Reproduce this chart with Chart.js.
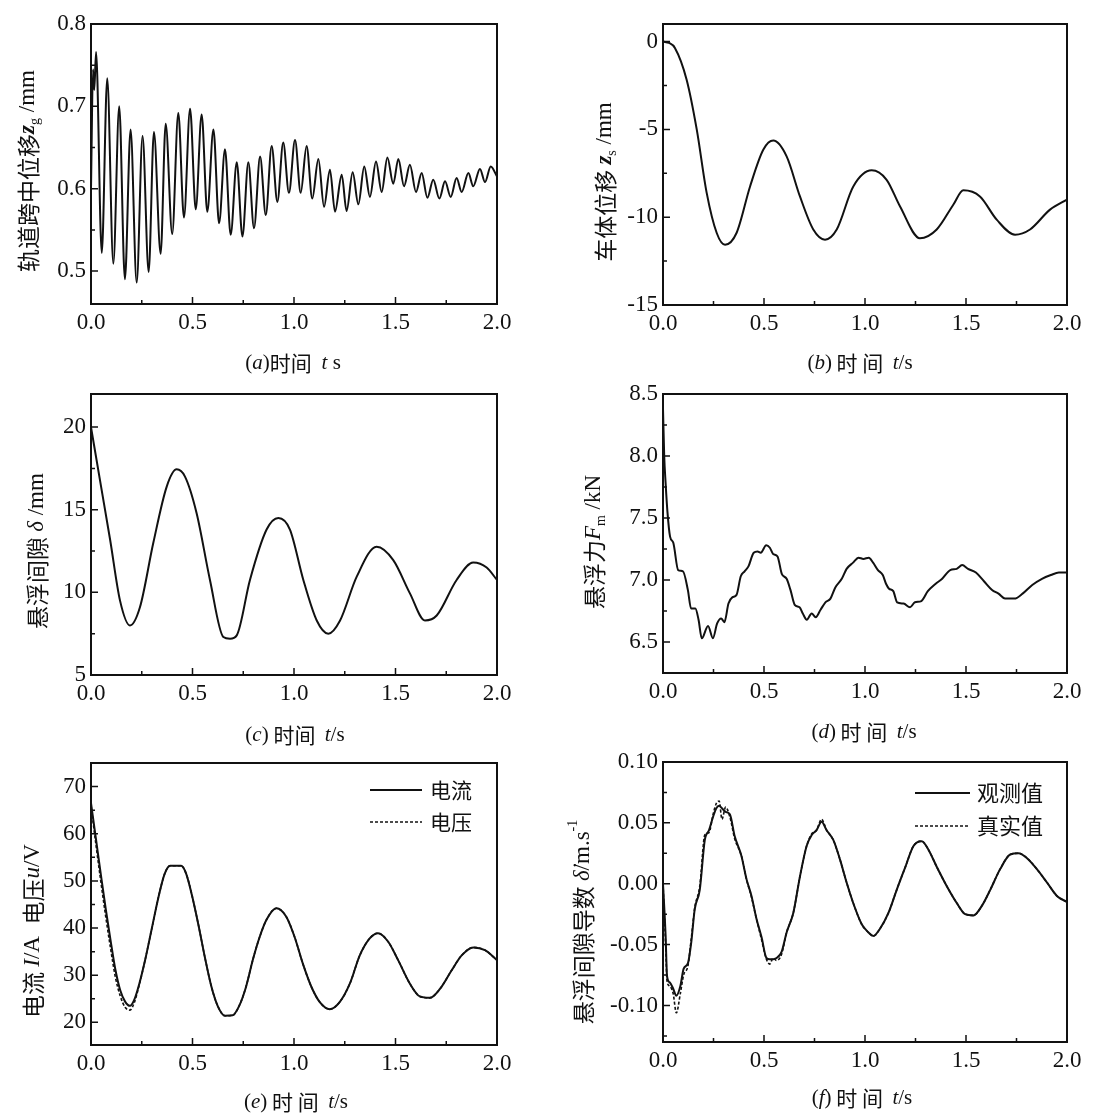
<!DOCTYPE html>
<html>
<head>
<meta charset="utf-8">
<script src="https://cdn.jsdelivr.net/npm/chart.js@4.4.1/dist/chart.umd.min.js"></script>
<style>
    body { margin: 0; background: #fff; }
    #page { position: relative; width: 1104px; height: 1115px; overflow: hidden; background: #fff; }
    canvas { position: absolute; }
</style>
</head>
<body>
<div id="page">
    <canvas id="chartA" width="545" height="380" style="left:0px;top:0px"></canvas>
    <canvas id="chartB" width="556" height="380" style="left:548px;top:0px"></canvas>
    <canvas id="chartC" width="545" height="370" style="left:0px;top:380px"></canvas>
    <canvas id="chartD" width="556" height="370" style="left:548px;top:380px"></canvas>
    <canvas id="chartE" width="545" height="365" style="left:0px;top:750px"></canvas>
    <canvas id="chartF" width="556" height="365" style="left:548px;top:750px"></canvas>
</div>
<script>
// (a) 轨道跨中位移
const tiempoA = [0, 0.010, 0.016, 0.025, 0.053, 0.080, 0.110, 0.139, 0.167, 0.195, 0.225, 0.254, 0.284, 0.310,
    0.343, 0.368, 0.400, 0.430, 0.458, 0.488, 0.516, 0.545, 0.573, 0.603, 0.631, 0.660, 0.688, 0.718, 0.746, 0.775,
    0.803, 0.833, 0.861, 0.890, 0.918, 0.947, 0.975, 1.005, 1.033, 1.062, 1.090, 1.120, 1.148, 1.177, 1.202, 1.235,
    1.259, 1.289, 1.317, 1.346, 1.374, 1.404, 1.432, 1.460, 1.489, 1.514, 1.542, 1.571, 1.601, 1.629, 1.657, 1.686,
    1.716, 1.744, 1.772, 1.801, 1.826, 1.859, 1.883, 1.916, 1.941, 1.969, 2.0];
const desplazamientoA = [0.60, 0.745, 0.72, 0.766, 0.522, 0.734, 0.509, 0.700, 0.490, 0.672, 0.486, 0.664, 0.499, 0.669,
    0.521, 0.679, 0.545, 0.692, 0.565, 0.697, 0.575, 0.690, 0.572, 0.672, 0.558, 0.648, 0.544, 0.632, 0.542, 0.632,
    0.552, 0.639, 0.568, 0.652, 0.584, 0.656, 0.595, 0.659, 0.595, 0.652, 0.588, 0.636, 0.578, 0.623, 0.572, 0.617,
    0.573, 0.620, 0.581, 0.627, 0.590, 0.633, 0.596, 0.638, 0.606, 0.636, 0.603, 0.629, 0.596, 0.619, 0.589, 0.611,
    0.588, 0.609, 0.590, 0.613, 0.596, 0.619, 0.603, 0.624, 0.608, 0.627, 0.615];

// (b) 车体位移
const tiempoB = [0, 0.030, 0.059, 0.117, 0.167, 0.216, 0.266, 0.307, 0.364, 0.431, 0.497, 0.546, 0.612, 0.678, 0.744,
    0.802, 0.860, 0.942, 1.033, 1.107, 1.173, 1.272, 1.355, 1.437, 1.487, 1.569, 1.652, 1.743, 1.817, 1.916, 2.0];
const desplazamientoB = [0, -0.08, -0.36, -2.17, -5.0, -8.6, -10.9, -11.57, -10.9, -8.25, -6.15, -5.64, -6.54, -8.82,
    -10.7, -11.28, -10.7, -8.25, -7.33, -7.87, -9.38, -11.2, -10.7, -9.29, -8.47, -8.82, -10.14, -11.0, -10.7, -9.57, -9.0];

// (c) 悬浮间隙
const tiempoC = [0, 0.044, 0.094, 0.143, 0.192, 0.241, 0.307, 0.373, 0.422, 0.463, 0.520, 0.586, 0.652, 0.685, 0.718,
    0.783, 0.865, 0.923, 0.980, 1.046, 1.112, 1.169, 1.227, 1.309, 1.407, 1.489, 1.571, 1.645, 1.703, 1.801, 1.883, 1.949, 2.0];
const holguraC = [20, 16.8, 13.2, 9.5, 8.0, 9.1, 13.0, 16.4, 17.44, 17.0, 14.8, 10.75, 7.3, 7.2, 7.4,
    10.75, 13.8, 14.5, 13.8, 10.75, 8.3, 7.5, 8.3, 10.95, 12.76, 11.95, 9.94, 8.3, 8.6, 10.75, 11.8, 11.5, 10.75];

// (d) 悬浮力
const tiempoD = [0, 0.006, 0.013, 0.022, 0.035, 0.051, 0.075, 0.099, 0.123, 0.139, 0.160, 0.176, 0.192, 0.223, 0.247,
    0.268, 0.288, 0.304, 0.324, 0.343, 0.364, 0.385, 0.404, 0.423, 0.449, 0.468, 0.484, 0.511, 0.529, 0.545, 0.567,
    0.588, 0.612, 0.631, 0.652, 0.676, 0.692, 0.712, 0.736, 0.756, 0.780, 0.804, 0.829, 0.853, 0.885, 0.909, 0.941,
    0.968, 0.992, 1.019, 1.040, 1.064, 1.088, 1.104, 1.119, 1.140, 1.159, 1.191, 1.223, 1.247, 1.279, 1.311, 1.350,
    1.382, 1.422, 1.454, 1.481, 1.510, 1.549, 1.589, 1.629, 1.661, 1.693, 1.740, 1.780, 1.828, 1.876, 1.920, 1.960, 2.0];
const fuerzaD = [8.38, 8.0, 7.78, 7.55, 7.35, 7.30, 7.08, 7.07, 6.92, 6.77, 6.77, 6.68, 6.53, 6.63, 6.53,
    6.65, 6.69, 6.66, 6.81, 6.86, 6.88, 7.03, 7.07, 7.11, 7.22, 7.23, 7.22, 7.28, 7.26, 7.21, 7.19,
    7.05, 7.01, 6.92, 6.80, 6.78, 6.73, 6.68, 6.73, 6.70, 6.76, 6.82, 6.85, 6.94, 7.01, 7.09, 7.14,
    7.18, 7.17, 7.18, 7.14, 7.08, 7.04, 6.97, 6.93, 6.91, 6.82, 6.81, 6.78, 6.82, 6.83, 6.91, 6.97,
    7.01, 7.08, 7.09, 7.12, 7.09, 7.06, 6.99, 6.92, 6.89, 6.85, 6.85, 6.89, 6.96, 7.01, 7.04, 7.06, 7.06];

// (e) 电流 / 电压
const tiempoE = [0, 0.024, 0.048, 0.072, 0.096, 0.120, 0.144, 0.168, 0.192, 0.215, 0.238, 0.268, 0.300, 0.332, 0.362,
    0.390, 0.444, 0.469, 0.497, 0.530, 0.561, 0.593, 0.625, 0.660, 0.698, 0.730, 0.762, 0.798, 0.830, 0.865, 0.913,
    0.962, 1.003, 1.044, 1.086, 1.127, 1.176, 1.225, 1.275, 1.324, 1.373, 1.414, 1.464, 1.513, 1.571, 1.620, 1.669,
    1.719, 1.776, 1.826, 1.883, 1.941, 2.0];
const corrienteE = [66.5, 59.0, 51.5, 44.2, 37.5, 31.2, 26.8, 24.4, 23.5, 25.0, 28.2, 33.5, 40.0, 46.5, 51.4,
    53.2, 53.2, 51.5, 47.0, 40.5, 33.8, 27.6, 23.4, 21.4, 21.5, 23.5, 27.3, 33.4, 38.0, 41.8, 44.2,
    42.4, 38.1, 32.4, 27.5, 24.3, 22.8, 24.3, 28.2, 34.2, 37.8, 38.9, 37.1, 33.2, 28.2, 25.5, 25.2,
    27.1, 31.0, 34.2, 35.9, 35.3, 33.2];
const voltajeE = [66.0, 57.8, 50.0, 42.6, 35.8, 29.6, 25.6, 23.2, 22.6, 24.4, 28.0, 33.5, 40.0, 46.5, 51.4,
    53.2, 53.2, 51.5, 47.0, 40.5, 33.8, 27.6, 23.4, 21.4, 21.5, 23.5, 27.3, 33.4, 38.0, 41.8, 44.2,
    42.4, 38.1, 32.4, 27.5, 24.3, 22.8, 24.3, 28.2, 34.2, 37.8, 38.9, 37.1, 33.2, 28.2, 25.5, 25.2,
    27.1, 31.0, 34.2, 35.9, 35.3, 33.2];

// (f) 悬浮间隙导数
const tiempoF = [0, 0.013, 0.020, 0.033, 0.050, 0.066, 0.086, 0.102, 0.124, 0.140, 0.157, 0.182, 0.207, 0.228, 0.248,
    0.264, 0.278, 0.292, 0.310, 0.331, 0.355, 0.388, 0.413, 0.438, 0.463, 0.488, 0.512, 0.529, 0.545, 0.562, 0.587,
    0.612, 0.645, 0.678, 0.711, 0.736, 0.760, 0.785, 0.810, 0.843, 0.876, 0.909, 0.942, 0.983, 1.017, 1.041, 1.074,
    1.116, 1.157, 1.198, 1.240, 1.281, 1.314, 1.355, 1.405, 1.455, 1.496, 1.537, 1.579, 1.620, 1.669, 1.719, 1.760,
    1.802, 1.851, 1.901, 1.950, 2.0];
const observadoF = [0.000, -0.043, -0.076, -0.081, -0.086, -0.092, -0.084, -0.070, -0.065, -0.048, -0.021, -0.005, 0.036, 0.044, 0.055,
    0.062, 0.064, 0.062, 0.059, 0.057, 0.039, 0.023, 0.004, -0.010, -0.029, -0.044, -0.061, -0.062, -0.062, -0.061, -0.056,
    -0.040, -0.024, 0.006, 0.031, 0.040, 0.044, 0.051, 0.044, 0.036, 0.020, 0.001, -0.016, -0.033, -0.040, -0.043, -0.037,
    -0.024, -0.005, 0.013, 0.031, 0.035, 0.028, 0.014, -0.002, -0.016, -0.025, -0.026, -0.018, -0.005, 0.012, 0.024, 0.025,
    0.021, 0.012, 0.001, -0.010, -0.015];
const realF = [0.000, -0.050, -0.080, -0.084, -0.090, -0.106, -0.090, -0.075, -0.067, -0.045, -0.020, -0.002, 0.040, 0.042, 0.057,
    0.066, 0.068, 0.053, 0.063, 0.055, 0.037, 0.023, 0.004, -0.011, -0.029, -0.046, -0.062, -0.066, -0.061, -0.063, -0.058,
    -0.040, -0.024, 0.006, 0.031, 0.041, 0.044, 0.053, 0.044, 0.036, 0.020, 0.001, -0.016, -0.033, -0.040, -0.043, -0.037,
    -0.024, -0.005, 0.013, 0.031, 0.035, 0.028, 0.014, -0.002, -0.016, -0.025, -0.026, -0.018, -0.005, 0.012, 0.024, 0.025,
    0.021, 0.012, 0.001, -0.010, -0.015];

const SERIF = '"Liberation Serif", "DejaVu Serif", serif';
const CJK = '"Noto Sans CJK SC", "Noto Sans", sans-serif';

// trozos de texto: r = romana, i = cursiva, b = cursiva negrita, c = chino, sub / sup
const fuente = (k, size) => {
    const s = (k === 'sub' || k === 'sup') ? Math.round(size * 0.6) : size;
    if (k === 'c') return `${s}px ${CJK}`;
    if (k === 'i') return `italic ${s}px ${SERIF}`;
    if (k === 'b') return `italic bold ${s}px ${SERIF}`;
    return `${s}px ${SERIF}`;
};

function dibujarTrozos(ctx, trozos, size, x, y, rot) {
    ctx.save();
    ctx.translate(x, y);
    if (rot) ctx.rotate(rot);
    ctx.fillStyle = '#111';
    ctx.textBaseline = 'middle';
    ctx.textAlign = 'left';
    let total = 0;
    trozos.forEach(([t, k]) => { ctx.font = fuente(k, size); total += ctx.measureText(t).width; });
    let cx = -total / 2;
    trozos.forEach(([t, k]) => {
        ctx.font = fuente(k, size);
        const dy = k === 'sub' ? size * 0.32 : (k === 'sup' ? -size * 0.42 : 0);
        ctx.fillText(t, cx, dy);
        cx += ctx.measureText(t).width;
    });
    ctx.restore();
}

// marco, marcas hacia dentro, títulos y leyenda
const papel = {
    id: 'papel',
    afterDraw(chart, args, o) {
        const ctx = chart.ctx;
        const { left, right, top, bottom } = chart.chartArea;
        const xs = chart.scales.x, ys = chart.scales.y;
        ctx.save();
        ctx.strokeStyle = '#111';
        ctx.lineWidth = 2;
        ctx.strokeRect(left, top, right - left, bottom - top);
        ctx.lineWidth = 1.5;
        ctx.beginPath();
        const xt = xs.ticks.map(t => t.value);
        xt.forEach((v, i) => {
            const px = xs.getPixelForValue(v);
            ctx.moveTo(px, bottom); ctx.lineTo(px, bottom - 7);
            if (i < xt.length - 1) {
                const pm = xs.getPixelForValue((v + xt[i + 1]) / 2);
                ctx.moveTo(pm, bottom); ctx.lineTo(pm, bottom - 4);
            }
        });
        const yt = ys.ticks.map(t => t.value);
        const paso = yt[1] - yt[0];
        yt.forEach((v, i) => {
            const py = ys.getPixelForValue(v);
            ctx.moveTo(left, py); ctx.lineTo(left + 7, py);
            const sig = i < yt.length - 1 ? (v + yt[i + 1]) / 2 : null;
            if (sig !== null) {
                const pm = ys.getPixelForValue(sig);
                ctx.moveTo(left, pm); ctx.lineTo(left + 4, pm);
            }
        });
        const bajo = yt[0] - paso / 2;
        if (bajo > ys.min) {
            const pm = ys.getPixelForValue(bajo);
            ctx.moveTo(left, pm); ctx.lineTo(left + 4, pm);
        }
        ctx.stroke();
        ctx.restore();

        dibujarTrozos(ctx, o.pie, 21, o.pieX, o.pieY, 0);
        dibujarTrozos(ctx, o.tituloY, 23, o.tituloX, o.tituloYc, -Math.PI / 2);

        if (o.leyenda) {
            const L = o.leyenda;
            chart.data.datasets.forEach((ds, i) => {
                const y = top + L.y + i * L.fila;
                ctx.save();
                ctx.strokeStyle = '#111';
                ctx.lineWidth = ds.borderWidth;
                ctx.setLineDash(ds.borderDash || []);
                ctx.beginPath();
                ctx.moveTo(right + L.x1, y); ctx.lineTo(right + L.x2, y);
                ctx.stroke();
                ctx.restore();
                ctx.save();
                ctx.fillStyle = '#111';
                ctx.font = `${L.size}px ${CJK}`;
                ctx.textBaseline = 'middle';
                ctx.fillText(ds.label, right + L.xt, y);
                ctx.restore();
            });
        }
    }
};

const puntos = (ts, vs) => ts.map((t, i) => ({ x: t, y: vs[i] }));

function panel(id, datasets, p) {
    const canvas = document.getElementById(id);
    const H = canvas.height;
    new Chart(canvas, {
        type: 'line',
        data: { datasets },
        plugins: [papel],
        options: {
            responsive: false,
            animation: false,
            devicePixelRatio: 1,
            layout: { padding: { top: p.top, right: p.right, left: 0, bottom: 0 } },
            elements: { point: { radius: 0 } },
            plugins: {
                legend: { display: false },
                tooltip: { enabled: false },
                papel: p.texto
            },
            scales: {
                x: {
                    type: 'linear', min: 0, max: 2,
                    grid: { display: false, drawTicks: false }, border: { display: false },
                    ticks: {
                        stepSize: 0.5, padding: 5, color: '#111', maxRotation: 0, autoSkip: false,
                        font: { family: SERIF, size: 23 },
                        callback: v => v.toFixed(1)
                    },
                    afterFit: s => { s.height = H - p.bottom; s.paddingLeft = 0; s.paddingRight = 0; }
                },
                y: {
                    min: p.ymin, max: p.ymax,
                    grid: { display: false, drawTicks: false }, border: { display: false },
                    ticks: {
                        stepSize: p.step, includeBounds: false, padding: 5, color: '#111', autoSkip: false,
                        font: { family: SERIF, size: 23 },
                        callback: p.fmt
                    },
                    afterFit: s => { s.width = p.left; s.paddingTop = 0; s.paddingBottom = 0; }
                }
            }
        }
    });
}

const linea = (label, data, dash) => ({
    label, data,
    borderColor: '#111', borderWidth: dash ? 1.6 : 2, borderDash: dash || [],
    fill: false, cubicInterpolationMode: 'monotone', pointRadius: 0
});

panel('chartA', [linea('轨道跨中位移', puntos(tiempoA, desplazamientoA))], {
    top: 24, right: 48, left: 91, bottom: 304, ymin: 0.46, ymax: 0.8, step: 0.1, fmt: v => v.toFixed(1),
    texto: {
        pie: [['(', 'r'], ['a', 'i'], [')', 'r'], ['时间 ', 'c'], [' ', 'r'], ['t', 'i'], [' s', 'r']], pieX: 293, pieY: 363,
        tituloY: [['轨道跨中位移', 'c'], ['z', 'b'], ['g', 'sub'], [' /mm', 'r']], tituloX: 28, tituloYc: 171
    }
});

panel('chartB', [linea('车体位移', puntos(tiempoB, desplazamientoB))], {
    top: 24, right: 37, left: 115, bottom: 305, ymin: -15, ymax: 1, step: 5, fmt: v => String(v),
    texto: {
        pie: [['(', 'r'], ['b', 'i'], [')', 'r'], [' 时 间  ', 'c'], ['t', 'i'], ['/s', 'r']], pieX: 312, pieY: 363,
        tituloY: [['车体位移 ', 'c'], ['z', 'b'], ['s', 'sub'], [' /mm', 'r']], tituloX: 57, tituloYc: 182
    }
});

panel('chartC', [linea('悬浮间隙', puntos(tiempoC, holguraC))], {
    top: 14, right: 48, left: 91, bottom: 295, ymin: 5, ymax: 22, step: 5, fmt: v => String(v),
    texto: {
        pie: [['(', 'r'], ['c', 'i'], [')', 'r'], [' 时间  ', 'c'], ['t', 'i'], ['/s', 'r']], pieX: 295, pieY: 355,
        tituloY: [['悬浮间隙 ', 'c'], ['δ', 'i'], [' /mm', 'r']], tituloX: 37, tituloYc: 171
    }
});

panel('chartD', [linea('悬浮力', puntos(tiempoD, fuerzaD))], {
    top: 14, right: 37, left: 115, bottom: 293, ymin: 6.25, ymax: 8.5, step: 0.5, fmt: v => v.toFixed(1),
    texto: {
        pie: [['(', 'r'], ['d', 'i'], [')', 'r'], [' 时 间  ', 'c'], ['t', 'i'], ['/s', 'r']], pieX: 316, pieY: 352,
        tituloY: [['悬浮力', 'c'], ['F', 'i'], ['m', 'sub'], [' /kN', 'r']], tituloX: 46, tituloYc: 162
    }
});

panel('chartE', [
    linea('电流', puntos(tiempoE, corrienteE)),
    linea('电压', puntos(tiempoE, voltajeE), [3, 2])
], {
    top: 13, right: 48, left: 91, bottom: 295, ymin: 15.2, ymax: 75, step: 10, fmt: v => String(v),
    texto: {
        pie: [['(', 'r'], ['e', 'i'], [')', 'r'], [' 时 间  ', 'c'], ['t', 'i'], ['/s', 'r']], pieX: 296, pieY: 352,
        tituloY: [['电流 ', 'c'], ['I', 'i'], ['/A  ', 'r'], ['电压', 'c'], ['u', 'i'], ['/V', 'r']], tituloX: 33, tituloYc: 181,
        leyenda: { x1: -127, x2: -75, xt: -67, y: 27, fila: 32, size: 21 }
    }
});

panel('chartF', [
    linea('观测值', puntos(tiempoF, observadoF)),
    linea('真实值', puntos(tiempoF, realF), [3, 2])
], {
    top: 12, right: 37, left: 115, bottom: 292, ymin: -0.13, ymax: 0.10, step: 0.05, fmt: v => v.toFixed(2),
    texto: {
        pie: [['(', 'r'], ['f', 'i'], [')', 'r'], [' 时 间  ', 'c'], ['t', 'i'], ['/s', 'r']], pieX: 314, pieY: 348,
        tituloY: [['悬浮间隙导数 ', 'c'], ['δ\u0307', 'i'], ['/m.s', 'r'], ['-1', 'sup']], tituloX: 35, tituloYc: 172,
        leyenda: { x1: -152, x2: -97, xt: -90, y: 31, fila: 33, size: 22 }
    }
});
</script>
</body>
</html>
